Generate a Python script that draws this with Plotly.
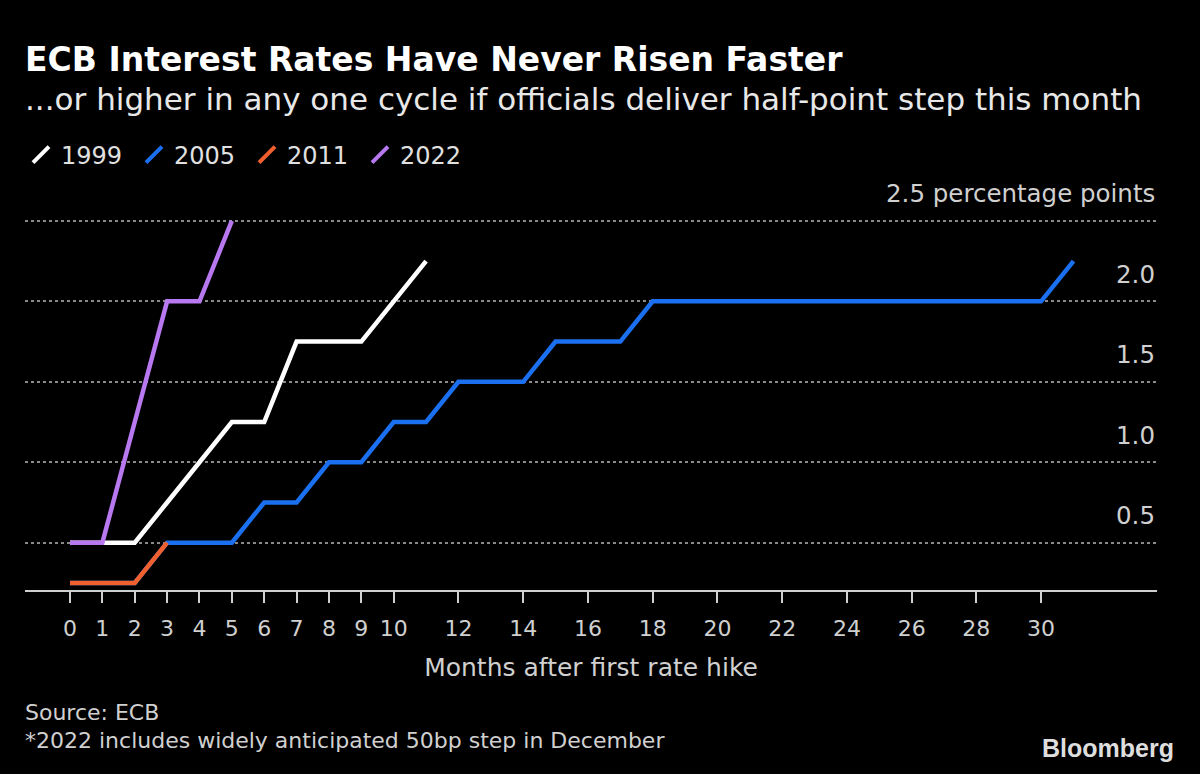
import plotly.graph_objects as go

# ---- data ----
months_1999 = [0, 1, 2, 3, 4, 5, 6, 7, 8, 9, 10, 11]
rates_1999 = [0.5, 0.5, 0.5, 0.75, 1.0, 1.25, 1.25, 1.75, 1.75, 1.75, 2.0, 2.25]

months_2005 = list(range(0, 32))
rates_2005 = [0.25, 0.25, 0.25, 0.5, 0.5, 0.5, 0.75, 0.75, 1.0, 1.0, 1.25, 1.25,
              1.5, 1.5, 1.5, 1.75, 1.75, 1.75, 2.0, 2.0, 2.0, 2.0, 2.0, 2.0,
              2.0, 2.0, 2.0, 2.0, 2.0, 2.0, 2.0, 2.25]

months_2011 = [0, 1, 2, 3]
rates_2011 = [0.25, 0.25, 0.25, 0.5]

months_2022 = [0, 1, 2, 3, 4, 5]
rates_2022 = [0.5, 0.5, 1.25, 2.0, 2.0, 2.5]

series_names = ["1999", "2005", "2011", "2022"]
series_colors = {"1999": "#ffffff", "2005": "#1a70f0", "2011": "#f0602e", "2022": "#b878f0"}
series_data = {"1999": (months_1999, rates_1999), "2005": (months_2005, rates_2005),
               "2011": (months_2011, rates_2011), "2022": (months_2022, rates_2022)}
draw_order = ["2005", "2011", "1999", "2022"]

x_ticks = [0, 1, 2, 3, 4, 5, 6, 7, 8, 9, 10, 12, 14, 16, 18, 20, 22, 24, 26, 28, 30]
y_ticks = [0.5, 1.0, 1.5, 2.0, 2.5]
y_tick_labels = ["0.5", "1.0", "1.5", "2.0", "2.5 percentage points"]

FONT = "DejaVu Sans"
W, H = 1200, 774
L, R, T, B = 25, 43, 200, 184
PW, PH = W - L - R, H - T - B


def px(p):
    return (p - L) / PW


def py(p):
    return (H - B - p) / PH


fig = go.Figure()

# legend entries (slanted icons)
for name in series_names:
    fig.add_trace(go.Scatter(
        x=[None], y=[None], mode="markers", name=name,
        marker=dict(symbol="line-ne-open", size=16, color=series_colors[name],
                    line=dict(color=series_colors[name], width=4)),
        showlegend=True, hoverinfo="skip"))

for name in draw_order:
    xs, ys = series_data[name]
    fig.add_trace(go.Scatter(
        x=xs, y=ys, mode="lines", name=name, showlegend=False,
        line=dict(color=series_colors[name], width=4.5)))

annotations = []
for v, lab in zip(y_ticks, y_tick_labels):
    annotations.append(dict(
        x=1, xref="paper", y=v, yref="y", text=lab, showarrow=False,
        xanchor="right", yanchor="middle", yshift=27,
        font=dict(family=FONT, size=24.5, color="#d0d0d0")))

annotations += [
    dict(x=px(23), y=py(60), xref="paper", yref="paper", xanchor="left", yanchor="middle",
         text="<b>ECB Interest Rates Have Never Risen Faster</b>", showarrow=False,
         font=dict(family=FONT, size=33, color="#ffffff")),
    dict(x=px(23), y=py(99), xref="paper", yref="paper", xanchor="left", yanchor="middle",
         text="...or higher in any one cycle if officials deliver half-point step this month",
         showarrow=False, font=dict(family=FONT, size=31, color="#e8e8e8")),
    dict(x=px(23), y=py(712), xref="paper", yref="paper", xanchor="left", yanchor="middle",
         text="Source: ECB", showarrow=False,
         font=dict(family=FONT, size=22, color="#d0d0d0")),
    dict(x=px(23), y=py(740), xref="paper", yref="paper", xanchor="left", yanchor="middle",
         text="*2022 includes widely anticipated 50bp step in December", showarrow=False,
         font=dict(family=FONT, size=22, color="#d0d0d0")),
    dict(x=px(1176), y=py(748), xref="paper", yref="paper", xanchor="right", yanchor="middle",
         text="<b>Bloomberg</b>", showarrow=False,
         font=dict(family="Liberation Sans", size=25, color="#dedede")),
]

fig.update_layout(
    width=W, height=H,
    paper_bgcolor="#000000", plot_bgcolor="#000000",
    margin=dict(l=L, r=R, t=T, b=B),
    showlegend=True,
    legend=dict(orientation="h", x=px(21), y=py(155), xanchor="left", yanchor="middle",
                font=dict(family=FONT, size=24, color="#e0e0e0"),
                entrywidth=68, bgcolor="rgba(0,0,0,0)", traceorder="normal"),
    annotations=annotations,
    xaxis=dict(range=[-1.39, 33.58], tickvals=x_ticks, ticktext=[str(t) for t in x_ticks],
               ticks="outside", ticklen=11, tickwidth=2, tickcolor="#cfcfcf",
               ticklabelstandoff=7,
               showline=True, linecolor="#cfcfcf", linewidth=2,
               showgrid=False, zeroline=False,
               tickfont=dict(family=FONT, size=22, color="#d0d0d0"),
               title=dict(text="Months after first rate hike", standoff=18,
                          font=dict(family=FONT, size=25, color="#d0d0d0"))),
    yaxis=dict(range=[0.206, 2.63], tickvals=y_ticks, showticklabels=False,
               showgrid=True, gridcolor="#8a8a8a", griddash="3px,3px", gridwidth=1.5,
               zeroline=False, showline=False, ticks=""),
)

fig.write_html("out.html", config={"displayModeBar": False},
               post_script="document.body.style.margin='0';document.body.style.overflow='hidden';")
